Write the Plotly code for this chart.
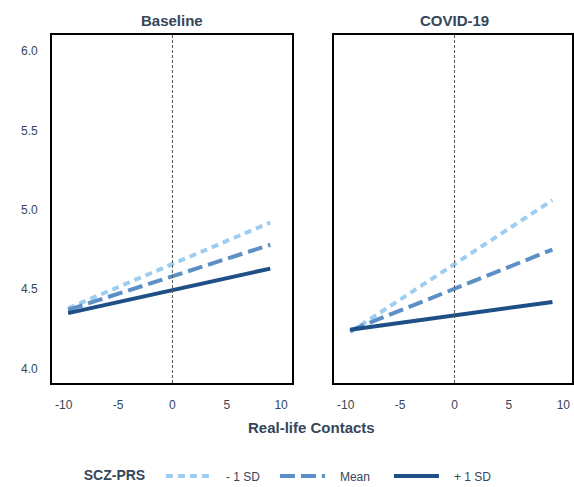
import plotly.graph_objects as go

# Data
contacts = [-9.6, 9.0]
panels = ["Baseline", "COVID-19"]
groups = ["- 1 SD", "Mean", "+ 1 SD"]
baseline_vals = {"- 1 SD": [4.38, 4.92], "Mean": [4.37, 4.78], "+ 1 SD": [4.35, 4.63]}
covid_vals = {"- 1 SD": [4.23, 5.06], "Mean": [4.24, 4.75], "+ 1 SD": [4.245, 4.42]}
x_ticks = [-10, -5, 0, 5, 10]
x_tick_text = ["-10", "-5", "0", "5", "10"]
y_ticks = [4.0, 4.5, 5.0, 5.5, 6.0]
y_tick_text = ["4.0", "4.5", "5.0", "5.5", "6.0"]

colors = {"- 1 SD": "#9dcdf0", "Mean": "#5b8fc6", "+ 1 SD": "#1e4f86"}
dashes = {"- 1 SD": "7px,5px", "Mean": "15px,6px", "+ 1 SD": "solid"}
text_col = "#35465a"
FONT = "Liberation Sans, Arial"

fig = go.Figure()
for i, (vals, xa, ya) in enumerate([(baseline_vals, "x", "y"), (covid_vals, "x2", "y2")]):
    for g in groups:
        fig.add_trace(go.Scatter(
            x=contacts, y=vals[g], mode="lines", name="   " + g, xaxis=xa, yaxis=ya,
            line=dict(color=colors[g], width=4, dash=dashes[g]),
            showlegend=(i == 0)))

axis_common = dict(showline=True, mirror=True, linecolor="black", linewidth=1.5,
                   showgrid=False, zeroline=False, ticks="",
                   tickfont=dict(family=FONT, size=12, color=text_col))
fig.update_layout(
    xaxis=dict(domain=[52/574, 293/574], range=[-11.1, 11.0], tickvals=x_ticks,
               ticktext=x_tick_text, ticklabelstandoff=10, **axis_common),
    xaxis2=dict(domain=[335/574, 1.0], range=[-11.1, 10.8], tickvals=x_ticks,
                ticktext=x_tick_text, ticklabelstandoff=10, **axis_common),
    yaxis=dict(domain=[0, 1], range=[3.91, 6.1], tickvals=y_ticks, ticktext=y_tick_text,
               anchor="x", ticklabelstandoff=10, **axis_common),
    yaxis2=dict(domain=[0, 1], range=[3.91, 6.1], tickvals=y_ticks, showticklabels=False,
                anchor="x2", **axis_common),
    width=574, height=487,
    margin=dict(l=0, r=0, t=35, b=104),
    plot_bgcolor="white", paper_bgcolor="white",
    font=dict(family=FONT, color=text_col),
    legend=dict(orientation="h", x=82/574, xref="paper", y=1 - 476/487, yref="container",
                xanchor="left", yanchor="middle",
                title=dict(text="<b>SCZ-PRS</b>  ", font=dict(size=14, color=text_col)),
                font=dict(size=12, color=text_col), itemwidth=45,
                entrywidth=54, entrywidthmode="pixels"),
)

for xa in ["x", "x2"]:
    fig.add_shape(type="line", xref=xa, yref="y domain" if xa == "x" else "y2 domain",
                  x0=0, x1=0, y0=0, y1=1, line=dict(color="#555555", width=1, dash="3px,2px"))

fig.add_annotation(text="<b>Baseline</b>", xref="x", yref="paper", x=0, y=1, yshift=15,
                   yanchor="middle", showarrow=False, font=dict(size=15, color=text_col))
fig.add_annotation(text="<b>COVID-19</b>", xref="x2", yref="paper", x=0, y=1, yshift=15,
                   yanchor="middle", showarrow=False, font=dict(size=15, color=text_col))
fig.add_annotation(text="<b>Real-life Contacts</b>", xref="paper", yref="paper",
                   x=313/574, y=-(427-383)/348, yanchor="middle", showarrow=False,
                   font=dict(size=15, color=text_col))

fig.write_html("out.html")
